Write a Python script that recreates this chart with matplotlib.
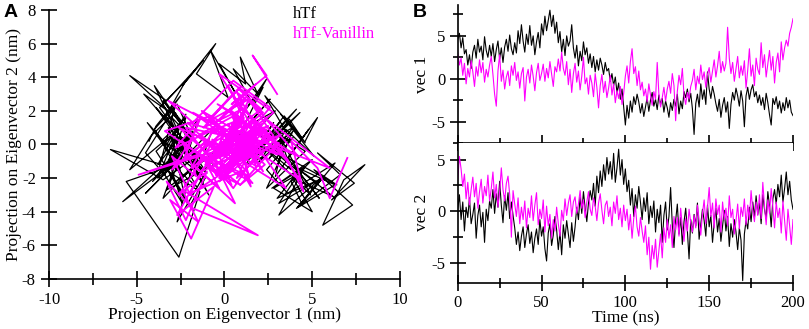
import numpy as np
import matplotlib.pyplot as plt
from matplotlib.ticker import MultipleLocator

plt.rcParams['font.family'] = ['Liberation Serif', 'DejaVu Serif']
plt.rcParams['font.size'] = 12
plt.rcParams['axes.unicode_minus'] = False

# time axis of the trajectories (ns), one frame per ns
time_ns = np.arange(0, 201)

# projection on eigenvector 1 (nm)
vec1_htf = [
    4.6, 5.3, 3.6, 4.8, 2.9, 3.4, 1.6, 2.8, 1.2, 3.1,
    3.9, 2.4, 4.6, 3.1, 3.8, 2.2, 4.9, 3.3, 2.5, 3.9,
    2.6, 4.1, 2.0, 3.4, 4.4, 2.3, 3.6, 1.9, 3.7, 4.6,
    3.2, 5.1, 3.5, 2.8, 4.2, 3.0, 5.6, 4.1, 6.3, 4.4,
    3.1, 5.2, 4.0, 6.2, 3.9, 5.0, 2.8, 4.3, 5.4, 3.6,
    6.4, 5.1, 7.3, 5.6, 6.8, 8.0, 6.1, 7.4, 5.3, 6.6,
    4.2, 5.5, 3.1, 4.6, 2.7, 5.0, 3.8, 4.4, 6.3, 3.6,
    2.4, 3.9, 1.5, 3.2, 2.1, 4.3, 2.8, 3.6, 1.8, 2.9,
    1.3, 2.6, 0.8, 2.2, 1.0, 2.4, 1.6, 0.5, 1.9, 0.9,
    1.2, -0.3, 0.6, -0.8, 0.2, -1.6, -0.5, -2.4, -1.2, -3.3,
    -5.4, -3.1, -4.6, -2.6, -3.9, -2.1, -3.0, -1.8, -2.7, -4.0,
    -2.9, -4.4, -3.3, -2.2, -3.8, -2.5, -1.6, -3.2, -2.4, -3.6,
    -1.9, -3.0, -2.3, -3.9, -2.6, -3.4, -4.5, -2.8, -3.7, -2.4,
    -3.2, -1.8, -4.1, -2.6, -3.5, -1.5, -2.2, -1.2, -2.7, -1.7,
    -3.5, -6.5, -2.9, -1.8, -3.3, -0.6, -2.4, -1.3, -3.0, 0.8,
    -1.2, -2.3, -0.9, -1.8, -2.9, -3.8, -2.4, -4.5, -3.1, -2.2,
    -3.9, -2.7, -5.8, -3.0, -1.6, -2.5, -1.1, -2.0, -3.2, -1.4,
    -2.6, -5.6, -2.0, -1.0, -2.4, -1.3, -0.7, -2.1, -1.5, -2.8,
    -1.9, -3.1, -2.2, -3.6, -1.7, -2.8, -4.2, -5.4, -2.3, -3.0,
    -2.1, -3.5, -2.6, -4.0, -2.8, -3.7, -2.2, -3.4, -2.5, -3.9,
    -4.3]

vec1_van = [
    3.0, 1.6, 2.4, 0.4, 1.8, -0.6, 1.2, 0.2, 2.1, 0.8,
    -0.9, 1.4, 0.3, 2.2, 0.7, 1.9, -0.4, 1.1, 0.2, 1.6,
    2.6, 0.5, -1.8, -3.2, 0.9, 2.8, -0.3, 1.0, -1.2, 0.2,
    0.9, -0.8, 1.5, 0.4, 1.9, -0.2, 0.8, -1.1, 0.6, 1.3,
    -2.6, 0.2, 1.1, -0.5, 1.6, 0.3, -1.4, 0.7, 1.8, -0.2,
    0.6, 1.7, -0.3, 1.2, 0.1, 2.0, 0.5, -0.9, 1.4, 0.8,
    2.3, 0.9, 3.1, 1.2, 0.4, 2.0, -0.7, 1.1, -1.6, 0.6,
    1.8, -0.4, 0.9, -1.3, 0.3, 2.5, -0.6, 0.1, -1.8, 0.4,
    -0.5, -2.1, 0.6, -1.0, -3.4, -0.8, 0.5, -1.6, -0.3, -2.2,
    -1.1, 0.4, -1.9, -0.6, -2.8, -1.4, -2.3, -0.9, -3.0, -1.7,
    0.3, 1.5, -0.5, 2.0, 3.5, 0.6, 1.4, -0.8, 0.9, -1.3,
    -0.4, -2.0, -1.2, -2.7, -0.6, -1.9, -3.1, -1.5, -2.4, 1.9,
    -1.8, -3.3, -2.2, -1.0, -2.6, -1.2, -0.3, -1.7, 0.6, -0.8,
    -4.9, -1.5, 0.4, -0.7, 1.2, -2.0, -3.0, -1.6, -2.4, -0.9,
    -0.2, 1.1, -1.3, 0.3, -0.6, 1.6, -0.1, 0.8, -1.0, 0.5,
    1.3, -0.4, 0.9, 2.2, 0.2, 1.5, 3.2, 0.7, 2.0, 0.9,
    1.8, 6.0, 2.4, 0.6, 1.9, -0.3, 1.2, 2.6, 0.1, 1.5,
    0.4, 2.1, -1.1, 1.0, 3.5, 0.3, 1.6, -0.8, 2.4, 1.1,
    0.5, 4.2, 1.3, 2.8, 0.2, 1.7, 3.3, 1.0, 2.6, -0.5,
    1.9, 3.0, 0.8, 4.3, 2.2, 3.6, 4.5, 3.8, 5.3, 6.0,
    7.0]

# projection on eigenvector 2 (nm)
vec2_htf = [
    0.2, 1.6, -0.8, 0.9, -1.9, 0.4, -0.6, 1.3, -1.2, -0.3,
    0.8, -2.6, -0.4, 0.6, -1.5, -0.1, -3.0, 0.2, -0.9, 1.0,
    0.3, 2.1, -0.2, 1.7, 0.4, 2.9, 0.6, -1.1, 1.5, 0.1,
    1.8, -0.7, 0.9, -0.4, -1.6, -3.2, -2.0, -3.8, -2.4, -1.5,
    -3.5, -2.2, -1.3, -3.1, -2.0, -4.0, -2.6, -1.7, -3.2, -0.8,
    -2.4, -1.5, -3.6, -4.8, -2.1, -1.2, -3.3, -2.3, -0.5, -1.8,
    -3.7, -2.0, -4.2, -1.3, -2.6, -0.9, -2.2, -3.5, -1.1, -2.9,
    -1.5, 0.4, -0.8, 1.4, -0.2, 1.9, 0.3, -1.0, 0.8, 2.0,
    1.1, 2.7, 0.5, 3.4, 1.8, 3.9, 2.4, 4.5, 3.0, 5.2,
    3.6, 4.8, 3.1, 5.6, 2.8, 4.2, 6.0, 3.5, 5.0, 2.6,
    4.1, 1.9, 3.0, 0.6, 2.2, -0.5, 1.6, 0.3, 2.4, 0.9,
    -0.8, 1.3, 0.0, 1.8, -1.2, 0.5, -0.6, 1.0, -2.0, 0.2,
    -1.1, 0.6, -3.0, -0.4, 0.9, -1.8, -0.5, 2.3, -1.3, -3.5,
    -0.9, 0.7, -2.2, -0.6, -3.2, -1.0, 0.3, -1.9, -4.6, -0.8,
    -2.1, -0.3, -1.4, 0.8, -2.7, -1.2, 0.2, -0.9, -2.4, 0.6,
    -1.5, -0.4, -3.0, -1.1, 0.3, -2.0, -0.7, -2.9, -1.4, 0.1,
    -1.9, -0.5, -3.4, -1.2, -2.5, -0.8, -2.0, -3.7, -1.6, -2.8,
    -6.7, -2.2, -0.9, -1.7, 0.4, -1.0, 0.9, -0.6, 1.5, -0.3,
    0.8, -1.2, 1.6, 0.2, -0.7, 1.9, 0.5, -1.5, 1.2, 2.1,
    0.7, 2.6, 1.4, 3.5, 0.9, 2.2, 3.8, 1.6, 2.9, 1.1,
    0.2]

vec2_van = [
    3.0, 5.3, 4.1, 2.4, 3.6, 1.2, 2.8, 0.6, 2.1, 3.3,
    1.4, 2.7, 0.3, 1.9, 3.1, 0.8, 2.4, 1.5, 3.5, 1.0,
    2.2, 3.8, 1.3, 2.6, 0.4, 1.9, 4.2, 2.1, 1.0, 2.7,
    3.4, 1.6, -2.5, 2.0, 0.7, -0.5, 1.3, -1.2, 0.4, -0.8,
    1.0, -1.6, 0.3, -0.6, 1.5, -0.9, 0.6, 1.8, -1.3, 0.2,
    -0.7, 1.1, -2.0, 0.5, -1.4, -0.3, -2.6, -0.8, -1.9, 0.4,
    -1.2, -2.4, 0.1, -0.9, 1.2, -0.4, 0.8, 1.6, -0.5, 0.9,
    1.4, -0.2, 0.7, 2.0, 0.3, 1.1, -0.6, 0.9, 1.9, 0.2,
    -0.4, 1.3, 0.5, -0.9, 0.8, 1.7, 0.1, -1.2, 0.6, 1.0,
    -0.5, 0.4, -1.4, 0.9, -0.2, 1.5, -0.8, 0.3, -1.5, 0.6,
    -0.9, 0.2, -1.8, -0.3, -2.6, -0.7, 0.5, -1.5, -2.4, -0.6,
    -1.9, -3.0, -1.4, -4.2, -2.5, -5.6, -3.3, -4.6, -2.7, -5.4,
    -3.8, -2.2, -4.5, -1.6, -3.0, -0.8, -2.6, -1.3, -3.5, -0.5,
    -1.8, -0.6, -2.4, 0.3, -1.5, -2.9, -0.7, -1.9, 0.2, -1.1,
    -2.0, -0.4, -1.6, 0.6, -0.9, -2.3, -0.2, 1.1, -1.2, 0.4,
    2.3, -0.5, 0.8, -1.6, 1.2, -0.3, 0.6, -2.0, 0.9, -0.8,
    0.3, -1.4, 1.5, -0.6, 0.2, -2.2, -0.9, 0.7, -1.7, 0.4,
    -0.5, 1.2, -1.3, 0.6, -0.8, 2.0, 0.1, -1.0, 0.9, -0.4,
    1.6, -0.7, 2.8, 0.5, -1.3, 1.1, -0.2, 2.2, 0.4, -1.6,
    0.9, -0.6, 0.3, -2.1, 1.0, -0.9, -2.8, 0.2, -1.4, -3.2,
    -0.8]

labels = ['hTf', 'hTf-Vanillin']
colors = ['black', '#ff00ff']


def style_axes(ax, major_len=10, minor_len=7):
    for side in ['top', 'right']:
        ax.spines[side].set_visible(False)
    for side in ['left', 'bottom']:
        ax.spines[side].set_linewidth(1.2)
    ax.tick_params(which='major', direction='inout', length=major_len, width=1.2)
    ax.tick_params(which='minor', direction='inout', length=minor_len, width=1.2)


fig = plt.figure(figsize=(8.09, 3.29), dpi=100)

# ---- panel A: 2D projection (same trajectories, vec1 vs vec2) ----
axA = fig.add_axes([0.0606, 0.152, 0.4338, 0.8176])
axA.plot(vec1_htf, vec2_htf, color=colors[0], lw=0.9)
axA.plot(vec1_van, vec2_van, color=colors[1], lw=1.3)
axA.set_xlim(-10, 10)
axA.set_ylim(-8, 8)
axA.xaxis.set_major_locator(MultipleLocator(5))
axA.xaxis.set_minor_locator(MultipleLocator(2.5))
axA.yaxis.set_major_locator(MultipleLocator(2))
style_axes(axA, 12, 9)
axA.set_xlabel('Projection on Eigenvector 1 (nm)', fontsize=12.5)
axA.set_ylabel('Projection on Eigenvector 2 (nm)', fontsize=12.5)
axA.xaxis.set_label_coords(0.5, -0.105)
axA.yaxis.set_label_coords(-0.078, 0.5)
axA.text(3.9, 7.75, labels[0], color=colors[0], va='center')
axA.text(3.9, 6.6, labels[1], color=colors[1], va='center')

# ---- panel B: time series ----
axB1 = fig.add_axes([0.5658, 0.5653, 0.4144, 0.4195])
axB2 = fig.add_axes([0.5658, 0.1407, 0.4144, 0.4246])
for ax, h, v in [(axB1, vec1_htf, vec1_van), (axB2, vec2_htf, vec2_van)]:
    ax.plot(time_ns, h, color=colors[0], lw=0.8)
    ax.plot(time_ns, v, color=colors[1], lw=0.8)
    ax.set_xlim(0, 200)
    ax.xaxis.set_major_locator(MultipleLocator(50))
    ax.xaxis.set_minor_locator(MultipleLocator(25))
    ax.yaxis.set_major_locator(MultipleLocator(5))
    ax.yaxis.set_minor_locator(MultipleLocator(2.5))
    style_axes(ax, 11, 7)
    ax.yaxis.set_label_coords(-0.083, 0.5)

axB1.set_ylim(-7.5, 8.6)
axB1.tick_params(labelbottom=False)
axB1.set_ylabel('vec 1', fontsize=12.5)
axB2.set_ylim(-6.9, 6.6)
axB2.set_ylabel('vec 2', fontsize=12.5)
axB2.set_xlabel('Time (ns)', fontsize=12.5)
axB2.xaxis.set_label_coords(0.5, -0.195)

fig.text(0.004, 0.963, 'A', fontsize=14, fontweight='bold', family='Liberation Sans', va='center')
fig.text(0.510, 0.963, 'B', fontsize=14, fontweight='bold', family='Liberation Sans', va='center')

fig.savefig('out.png', dpi=100)
